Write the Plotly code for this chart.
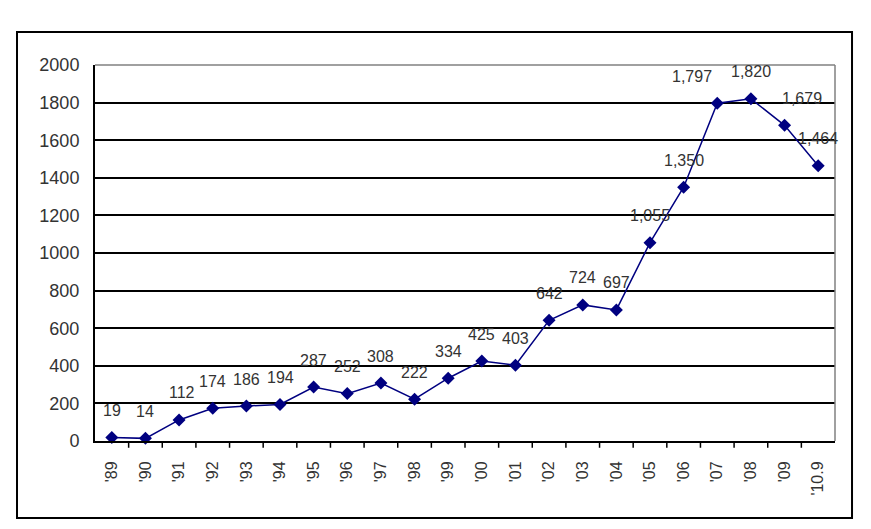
import plotly.graph_objects as go

years = ["'89", "'90", "'91", "'92", "'93", "'94", "'95", "'96", "'97", "'98", "'99",
         "'00", "'01", "'02", "'03", "'04", "'05", "'06", "'07", "'08", "'09", "'10.9"]
values = [19, 14, 112, 174, 186, 194, 287, 252, 308, 222, 334,
          425, 403, 642, 724, 697, 1055, 1350, 1797, 1820, 1679, 1464]
y_ticks = [0, 200, 400, 600, 800, 1000, 1200, 1400, 1600, 1800, 2000]

# horizontal nudges (px) for a few data labels, as placed in the original
label_dx = {"'07": -25, "'09": 17, "'91": 3}

navy = "#000080"
FONT = "Liberation Sans, Arial, sans-serif"
fig = go.Figure()
fig.add_trace(go.Scatter(
    x=list(range(len(years))), y=values, mode="lines+markers",
    line=dict(color=navy, width=1.5),
    marker=dict(symbol="diamond", size=10, color=navy),
    hoverinfo="skip", showlegend=False, cliponaxis=False,
))

for i, v in enumerate(values):
    fig.add_annotation(x=i, y=v, text=f"{v:,}", showarrow=False, yshift=27,
                       xshift=label_dx.get(years[i], 0),
                       font=dict(family=FONT, size=16, color="#333"))

fig.update_xaxes(
    range=[-0.5, len(years) - 0.5],
    tickmode="array", tickvals=list(range(len(years))), ticktext=years,
    tickangle=-90, showgrid=False, zeroline=False,
    showline=True, linecolor="black", linewidth=2,
    ticks="", ticklabelstandoff=12,
    tickfont=dict(family=FONT, size=16, color="#333"),
)
fig.update_yaxes(
    range=[0, 2000], tickvals=y_ticks, ticks="", showgrid=True, gridcolor="black", gridwidth=1.5,
    zeroline=False, showline=True, linecolor="black", linewidth=2,
    tickfont=dict(family=FONT, size=18, color="#333"),
    ticklabelstandoff=10,
)

# category boundary ticks on the x axis
for b in range(1, len(years)):
    fig.add_shape(type="line", xref="x", yref="paper", x0=b - 0.5, x1=b - 0.5, y0=0, y1=-0.018,
                  line=dict(color="black", width=1.5))

# gray plot border top and right
fig.add_shape(type="line", xref="paper", yref="paper", x0=0, x1=1, y0=1, y1=1,
              line=dict(color="#808080", width=1.5), layer="above")
fig.add_shape(type="line", xref="paper", yref="paper", x0=1, x1=1, y0=0, y1=1,
              line=dict(color="#808080", width=1.5), layer="above")
# outer frame
fig.add_shape(type="rect", xref="paper", yref="paper", x0=-0.1054, x1=1.023, y0=-0.2048, y1=1.0878,
              line=dict(color="black", width=2))

fig.update_layout(
    width=863, height=521,
    margin=dict(l=87, r=36, t=57, b=88),
    paper_bgcolor="white", plot_bgcolor="white",
)
fig.write_html("out.html")
